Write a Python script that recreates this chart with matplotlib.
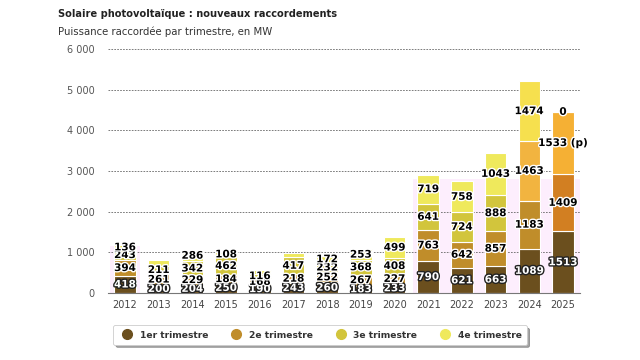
import matplotlib.pyplot as plt
import matplotlib.patheffects as pe
from matplotlib.lines import Line2D
from matplotlib.patches import Rectangle

years = ["2012", "2013", "2014", "2015", "2016", "2017", "2018",
         "2019", "2020", "2021", "2022", "2023", "2024", "2025"]
q1 = [418, 200, 204, 250, 190, 243, 260, 183, 233, 790, 621, 663, 1089, 1513]
q2 = [394, 261, 229, 184, 168, 218, 252, 267, 227, 763, 642, 857, 1183, 1409]
q3 = [243, 211, 342, 462, 116, 417, 232, 368, 408, 641, 724, 888, 1463, 1533]
q4 = [136, 150, 286, 108, 100, 100, 172, 253, 499, 719, 758, 1043, 1474, 0]
series_names = ["1er trimestre", "2e trimestre", "3e trimestre", "4e trimestre"]
colors = ["#6b4f1e", "#c08d2a", "#d2c53c", "#efe95c"]
# labels that the chart hides (overlapping)
hidden = {(1, 3), (4, 3), (5, 3)}
# provisional value
label_suffix = {(13, 2): " (p)"}
# bars drawn in other tones in the original
color_override = {(12, 2): "#f2b440", (12, 3): "#f6e04e",
                  (13, 1): "#d27f22", (13, 2): "#f5b034"}

plt.rcParams["font.family"] = "DejaVu Sans"
fig = plt.figure(figsize=(6.4, 3.6), dpi=100)
ax = fig.add_axes([0.169, 0.1861, 0.737, 0.6778])

# faint pink highlight zones seen in the original
ax.add_patch(Rectangle((8.55, 0), 5.0, 2800, color="#fdeefd", zorder=0, lw=0))
ax.add_patch(Rectangle((-0.45, 0), 0.9, 1150, color="#fdeefd", zorder=0, lw=0))

x = list(range(len(years)))
bottom = [0] * len(years)
for s, vals in enumerate([q1, q2, q3, q4]):
    cols = [color_override.get((i, s), colors[s]) for i in x]
    ax.bar(x, vals, 0.64, bottom=bottom, color=cols, edgecolor="white",
           linewidth=0.8, zorder=2)
    for i, v in enumerate(vals):
        if (i, s) in hidden:
            continue
        yc = bottom[i] + v / 2
        if s == 0:
            fc, sc = "white", "#222222"
        else:
            fc, sc = "black", "white"
        ax.text(i, yc, f"{v}{label_suffix.get((i, s), '')}", ha="center", va="center",
                fontsize=7.5, fontweight="bold", color=fc, zorder=4,
                path_effects=[pe.withStroke(linewidth=2, foreground=sc)])
    bottom = [b + v for b, v in zip(bottom, vals)]

ax.set_xlim(-0.5, len(years) - 0.5)
ax.set_ylim(0, 6000)
ax.set_yticks(range(0, 6001, 1000))
ax.set_yticklabels([f"{v:,}".replace(",", " ") for v in range(0, 6001, 1000)])
ax.set_xticks(x)
ax.set_xticklabels(years)
ax.tick_params(axis="y", length=0, labelsize=7, labelcolor="#555555", pad=10)
ax.tick_params(axis="x", length=0, labelsize=7, labelcolor="#444444", pad=5)
for sp in ["top", "right", "left"]:
    ax.spines[sp].set_visible(False)
ax.spines["bottom"].set_color("#777777")
ax.spines["bottom"].set_zorder(5)
ax.grid(axis="y", linestyle=(0, (2, 1.5)), color="#666666", linewidth=0.6, zorder=1)
ax.set_axisbelow(True)

fig.text(58 / 640, 1 - 14 / 360, "Solaire photovoltaïque : nouveaux raccordements",
         fontsize=7.1, fontweight="bold", color="#222222", va="center")
fig.text(58 / 640, 1 - 32 / 360, "Puissance raccordée par trimestre, en MW",
         fontsize=7.3, color="#333333", va="center")

handles = [Line2D([], [], marker="o", linestyle="", markersize=7,
                  markerfacecolor=c, markeredgecolor=c) for c in colors]
leg = fig.legend(handles, series_names, loc="center", ncol=4,
                 bbox_to_anchor=(320 / 640, 1 - 335 / 360), frameon=True,
                 fancybox=True, shadow=True, handletextpad=0.4, columnspacing=2.0,
                 borderpad=0.55, prop={"size": 6.6, "weight": "bold"})
for t in leg.get_texts():
    t.set_color("#333333")
leg.get_frame().set_edgecolor("#cccccc")
leg.get_frame().set_linewidth(0.6)

fig.savefig("out.png", dpi=100)
